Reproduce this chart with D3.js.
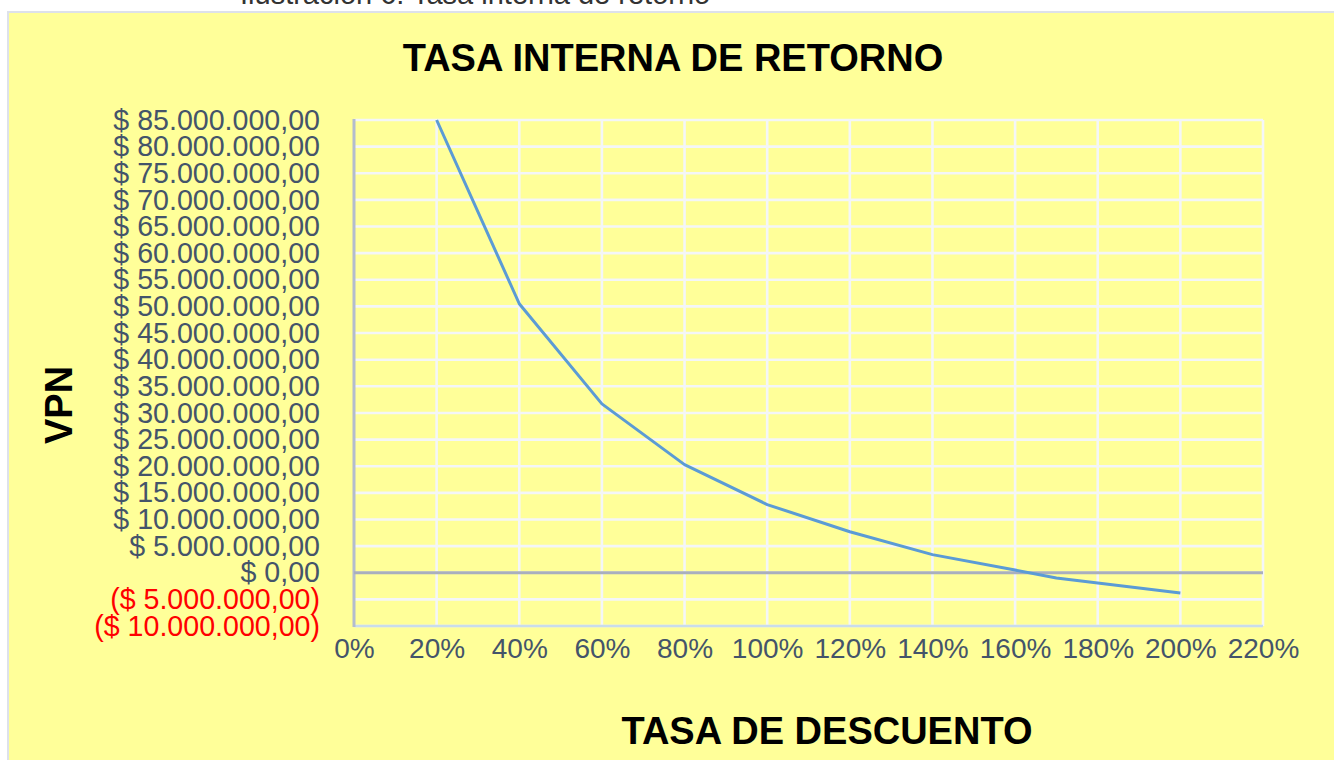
<!DOCTYPE html>
<html lang="es">
<head>
<meta charset="utf-8">
<title>Tasa interna de retorno</title>
<script src="https://cdn.jsdelivr.net/npm/d3@7/dist/d3.min.js"></script>
<style>
  html, body { margin: 0; padding: 0; background: #ffffff; }
  svg { display: block; }
  text { font-family: "Liberation Sans", Arial, sans-serif; }
</style>
</head>
<body>
<svg id="chart" width="1334" height="760"></svg>
<script>
// Tasa de descuento (fracción) y VPN correspondiente
const tasas = [0.2, 0.4, 0.6, 0.8, 1.0, 1.2, 1.4, 1.6, 1.7, 2.0];
const vpn   = [85000000, 50500000, 31700000, 20300000, 12800000, 7700000, 3400000, 500000, -1000000, -3800000];

// Marcas de los ejes
const xTicks = [0, 0.2, 0.4, 0.6, 0.8, 1.0, 1.2, 1.4, 1.6, 1.8, 2.0, 2.2];
const yTicks = [85e6, 80e6, 75e6, 70e6, 65e6, 60e6, 55e6, 50e6, 45e6, 40e6, 35e6, 30e6,
                25e6, 20e6, 15e6, 10e6, 5e6, 0, -5e6, -10e6];

const caption = "Ilustración 6: Tasa interna de retorno";
const title = "TASA INTERNA DE RETORNO";
const xTitle = "TASA DE DESCUENTO";
const yTitle = "VPN";

const svg = d3.select("#chart");

// Formato monetario colombiano: $ 85.000.000,00
const locale = d3.formatLocale({ decimal: ",", thousands: ".", grouping: [3], currency: ["$ ", ""] });
const money = locale.format("$,.2f");
const fmtY = v => v < 0 ? "(" + money(-v) + ")" : money(v);
const fmtX = d3.format(".0%");

// Texto de la ilustración, sobre el área del gráfico
svg.append("text")
  .attr("x", 240).attr("y", 4)
  .attr("font-size", 29)
  .attr("fill", "#333333")
  .text(caption);

// Área del gráfico
svg.append("rect")
  .attr("x", 8).attr("y", 12)
  .attr("width", 1340).attr("height", 760)
  .attr("fill", "#FFFF99")
  .attr("stroke", "#DDE1EA")
  .attr("stroke-width", 2);

const x = d3.scaleLinear().domain([0, 2.2]).range([354, 1263]);
const y = d3.scaleLinear().domain([-10e6, 85e6]).range([626, 120]);

// Cuadrícula horizontal
svg.append("g")
  .selectAll("line")
  .data(yTicks)
  .join("line")
  .attr("x1", x(0)).attr("x2", x(2.2))
  .attr("y1", d => y(d)).attr("y2", d => y(d))
  .attr("stroke", "#F4F6F8")
  .attr("stroke-width", 2.6);

// Cuadrícula vertical
svg.append("g")
  .selectAll("line")
  .data(xTicks.slice(1))
  .join("line")
  .attr("x1", d => x(d)).attr("x2", d => x(d))
  .attr("y1", y(85e6)).attr("y2", y(-10e6))
  .attr("stroke", "#F4F6F8")
  .attr("stroke-width", 2.6);

// Borde inferior y eje vertical
svg.append("line")
  .attr("x1", x(0)).attr("x2", x(2.2))
  .attr("y1", y(-10e6)).attr("y2", y(-10e6))
  .attr("stroke", "#C9DCEC").attr("stroke-width", 2.6);

svg.append("line")
  .attr("x1", x(0)).attr("x2", x(0))
  .attr("y1", y(85e6) - 1).attr("y2", y(-10e6) + 1)
  .attr("stroke", "#B3BCCE").attr("stroke-width", 3);

// Línea de VPN = 0
svg.append("line")
  .attr("x1", x(0)).attr("x2", x(2.2))
  .attr("y1", y(0)).attr("y2", y(0))
  .attr("stroke", "#A9AFBE").attr("stroke-width", 3);

// Etiquetas del eje Y
const yAxis = d3.axisLeft(y).tickValues(yTicks).tickFormat(fmtY).tickSize(0).tickPadding(0);
const gy = svg.append("g").attr("transform", "translate(320,0)").call(yAxis);
gy.select(".domain").remove();
gy.selectAll("text")
  .attr("font-size", 28.6)
  .attr("font-family", "'Liberation Sans', Arial, sans-serif")
  .attr("fill", d => d < 0 ? "#FF0000" : "#44546A");

// Etiquetas del eje X
const xAxis = d3.axisBottom(x).tickValues(xTicks).tickFormat(fmtX).tickSize(0).tickPadding(0);
const gx = svg.append("g").attr("transform", "translate(0,650)").call(xAxis);
gx.select(".domain").remove();
gx.selectAll("text")
  .attr("font-size", 28)
  .attr("font-family", "'Liberation Sans', Arial, sans-serif")
  .attr("fill", "#44546A")
  .attr("dy", "0.3em")
  .attr("y", 0);

// Curva del VPN
const puntos = tasas.map((t, i) => [t, vpn[i]]);
svg.append("path")
  .datum(puntos)
  .attr("fill", "none")
  .attr("stroke", "#5B9BD5")
  .attr("stroke-width", 3)
  .attr("stroke-linejoin", "round")
  .attr("d", d3.line().x(d => x(d[0])).y(d => y(d[1])));

// Títulos
svg.append("text")
  .attr("x", 673).attr("y", 71)
  .attr("text-anchor", "middle")
  .attr("font-size", 38).attr("font-weight", "bold")
  .attr("fill", "#000000")
  .text(title);

svg.append("text")
  .attr("x", 827).attr("y", 744)
  .attr("text-anchor", "middle")
  .attr("font-size", 38).attr("font-weight", "bold")
  .attr("fill", "#000000")
  .text(xTitle);

svg.append("text")
  .attr("transform", "translate(72,405) rotate(-90)")
  .attr("text-anchor", "middle")
  .attr("font-size", 38).attr("font-weight", "bold")
  .attr("fill", "#000000")
  .text(yTitle);
</script>
</body>
</html>
